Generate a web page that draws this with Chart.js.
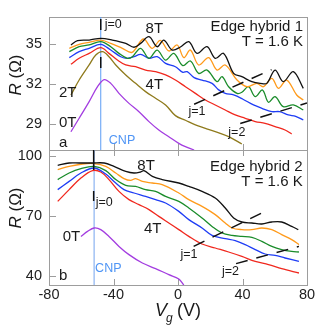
<!DOCTYPE html>
<html>
<head>
<meta charset="utf-8">
<title>Edge hybrid R vs Vg</title>
<script src="https://cdn.jsdelivr.net/npm/chart.js@4.4.0/dist/chart.umd.min.js"></script>
<style>
  body { margin: 0; background: #fff; }
  #wrap { position: relative; width: 321px; height: 332px; }
</style>
</head>
<body>
<div id="wrap"><canvas id="rvg" width="321" height="332"></canvas></div>
<script>
var FONT = '"Liberation Sans", Arial, Helvetica, sans-serif';

// tick labels
var xTicks = [-80, -40, 0, 40, 80];
var topTicks = [29, 32, 35];
var botTicks = [40, 70, 100];

// panel a (Edge hybrid 1), Vg in V, R in Ohm
var top8V = [-66.4,-62.3,-55.1,-47.9,-40.7,-32.4,-27.3,-23.2,-18.0,-12.9,-8.8,-3.6,1.5,6.7,11.8,18.0,23.1,28.3,34.5,39.6,45.8,51.0,55.1,60.2,65.3,71.5,77.7];
var top8R = [34.95,35.27,35.32,35.45,35.32,35.07,34.78,35.07,35.57,34.82,35.32,34.57,34.8,35.2,34.32,34.82,33.95,34.32,32.82,32.57,32.2,32.07,32.07,33.07,32.2,32.95,31.7];
var top7V = [-67.4,-61.3,-55.1,-47.9,-41.7,-34.5,-28.5,-21.5,-16.0,-11.0,-5.7,-0.5,3.6,7.7,12.8,19.0,24.2,29.3,36.6,42.7,48.9,53.0,58.2,62.3,67.4,73.6,77.7];
var top7R = [34.7,35.0,35.15,35.32,35.07,34.7,34.4,35.4,34.7,35.3,34.5,34.95,34.0,34.57,33.45,34.0,33.07,33.45,32.32,31.82,32.07,31.82,32.45,31.7,32.32,31.2,30.82];
var top6V = [-67.4,-61.3,-55.1,-47.9,-41.7,-36.6,-31.4,-28.3,-23.2,-18.0,-12.9,-7.7,-2.6,3.0,7.7,12.8,18.0,24.2,27.3,31.4,36.6,39.6,43.7,47.9,52.4,56.1,60.2,65.3,71.5,77.7];
var top6R = [34.45,34.82,34.95,35.2,34.82,34.32,33.95,34.07,34.7,33.95,34.57,33.82,34.32,33.4,33.75,32.82,33.07,32.2,32.57,31.82,31.32,31.4,31.82,31.07,31.57,30.65,31.07,30.32,30.45,30.07];
var top5V = [-67.4,-61.3,-55.1,-47.9,-41.7,-35.5,-31.4,-27.3,-23.2,-18.0,-12.9,-7.7,-1.6,3.0,5.7,10.0,14.9,21.1,25.0,29.3,34.5,40.0,46.8,52.0,58.2,63.0,68.4,73.0,77.7];
var top5R = [34.0,34.45,34.7,35.0,34.57,34.07,33.95,34.07,34.25,33.95,34.07,33.57,33.32,32.9,32.95,32.5,32.32,32.07,31.6,31.32,31.2,30.9,30.45,30.2,29.95,29.95,29.7,29.6,29.32];
var top4V = [-66.4,-61.3,-55.1,-47.9,-42.8,-37.6,-32.4,-26.3,-20.1,-13.9,-7.7,-1.6,4.6,10.8,17.0,23.1,29.3,35.5,41.7,47.9,54.0,60.2,66.4,70.5];
var top4R = [33.5,33.95,34.32,34.75,34.32,33.82,33.45,33.32,33.07,32.95,32.7,32.32,31.82,31.32,30.82,30.45,30.07,29.7,29.45,29.2,29.07,28.82,28.57,28.27];
var top2V = [-66.4,-61.3,-55.1,-51.0,-46.8,-42.8,-38.6,-32.4,-26.3,-20.1,-13.9,-7.7,-1.6,4.6,10.8,17.0,23.1,31.4,39.6];
var top2R = [31.2,32.32,33.45,34.2,34.45,34.07,33.45,32.7,32.07,31.45,30.95,30.45,29.65,29.3,28.95,28.7,28.45,28.07,27.52];
var top0V = [-66.4,-61.3,-55.1,-49.9,-45.8,-41.7,-36.6,-30.4,-24.2,-18.0,-11.9,-5.7,0.5,4.6,10.0];
var top0R = [28.44,29.45,30.7,31.82,32.35,32.07,31.32,30.57,29.94,29.2,28.57,28.07,27.57,27.32,27.07];

// panel b (Edge hybrid 2)
var bot8V = [-74.6,-67.5,-61.3,-53.0,-45.8,-39.7,-32.4,-27.3,-23.2,-21.1,-15.9,-9.8,0.5,6.7,14.9,23.1,29.3,34.5,39.6,45.8,52.0,58.2,64.3,70.5,74.6];
var bot8R = [95.3,96.5,96.5,96.5,96.5,94.8,92.3,91.5,92.0,92.7,89.8,88.2,86.5,84.8,82.3,79.0,74.0,69.0,67.0,66.5,66.0,67.0,67.0,64.8,63.2];
var bot7V = [-74.6,-67.5,-59.2,-52.0,-44.8,-38.6,-33.5,-29.4,-26.3,-22.1,-15.9,-9.8,0.5,6.7,14.9,23.1,29.3,33.5,39.6,45.8,52.0,58.2,64.3,70.5,75.0];
var bot7R = [93.2,94.8,96.0,96.2,94.8,91.5,88.7,87.8,88.7,87.3,86.5,85.7,81.5,78.2,74.8,70.7,66.5,64.0,63.2,63.2,64.0,63.2,60.7,58.2,55.7];
var bot6V = [-74.6,-67.5,-60.2,-52.0,-44.8,-38.6,-32.4,-26.3,-20.1,-13.9,-7.7,0.5,6.7,14.9,21.1,27.3,33.5,39.6,45.8,52.0,58.2,64.3,70.5,75.0];
var bot6R = [88.2,91.5,93.7,94.8,92.7,88.2,85.3,84.8,83.2,82.3,79.8,77.3,74.0,69.0,64.8,61.5,60.3,59.8,59.3,57.3,54.8,53.2,52.3,52.0];
var bot5V = [-74.6,-67.5,-60.2,-52.0,-44.8,-39.7,-33.5,-27.3,-20.1,-13.9,-7.7,0.5,6.7,14.9,21.1,29.3,35.5,41.7,47.9,54.0,60.2,66.4,75.0];
var bot5R = [83.2,87.3,91.5,94.0,91.0,87.3,83.2,81.5,79.8,78.2,76.5,72.3,68.2,64.0,60.3,58.7,57.7,55.7,53.2,51.0,50.3,49.0,47.3];
var bot4V = [-74.6,-67.5,-60.2,-53.0,-47.9,-42.8,-36.6,-30.4,-24.2,-18.0,-11.9,-5.7,0.5,6.7,14.9,23.1,31.4,39.6,47.9,56.1,64.3,75.0];
var bot4R = [77.3,83.2,89.0,92.7,92.0,88.2,82.3,78.2,75.7,73.2,69.8,66.5,63.2,59.8,56.0,54.0,52.0,49.8,47.3,45.7,43.7,41.5];
var bot0V = [-60.2,-56.1,-52.0,-47.9,-42.8,-36.6,-30.4,-22.1,-13.9,-5.7,0.5,3.6];
var bot0R = [59.8,62.3,64.0,63.2,59.8,54.8,50.7,46.5,43.7,40.7,38.5,35.5];

// j markers and charge neutrality point
var topJ0V = [-47.9,-47.9,-47.9,-47.9,-47.9];
var topJ0R = [36.9,36.07,null,34.05,33.22];
var topJ1V = [10,58];   var topJ1R = [30.5,33.1];
var topJ2V = [38.6,80]; var topJ2R = [29.06,30.6];
var botJ0V = [-52.3,-52.3,-52.3,-52.3,-52.3];
var botJ0R = [103,93.0,null,82.5,77.5];
var botJ1V = [9.7,52];  var botJ1R = [54.8,71.5];
var botJ2V = [36,75];   var botJ2R = [46.2,54.8];
var topCnpV = [-47.9,-47.9]; var topCnpR = [27.07,37.05];
var botCnpV = [-52.0,-52.0]; var botCnpR = [35.5,103];

var notes = [
  {ax:'yTop', t:'Edge hybrid 1', v:77.5, r:36.0, size:15, align:'right'},
  {ax:'yTop', t:'T = 1.6 K', v:77.5, r:34.87, size:15, align:'right'},
  {ax:'yTop', t:'8T', v:-20.1, r:35.82, size:15},
  {ax:'yTop', t:'4T', v:-20.1, r:31.65, size:15},
  {ax:'yTop', t:'2T', v:-73.8, r:31.07, size:15},
  {ax:'yTop', t:'0T', v:-73.8, r:28.82, size:15},
  {ax:'yTop', t:'a', v:-73.8, r:27.32, size:15},
  {ax:'yTop', t:'j=0', v:-45.4, r:36.2, size:12.5},
  {ax:'yTop', t:'CNP', v:-42.9, r:27.5, size:12.5, color:'#4f95f5'},
  {ax:'yTop', t:'j=1', v:6.5, r:29.69, size:12.5},
  {ax:'yTop', t:'j=2', v:31.2, r:28.15, size:12.5},
  {ax:'yBot', t:'Edge hybrid 2', v:77.3, r:92.5, size:15, align:'right'},
  {ax:'yBot', t:'T = 1.6 K', v:77.3, r:85.0, size:15, align:'right'},
  {ax:'yBot', t:'8T', v:-25.2, r:93.2, size:15},
  {ax:'yBot', t:'4T', v:-21.1, r:61.5, size:15},
  {ax:'yBot', t:'0T', v:-71.5, r:57.3, size:15},
  {ax:'yBot', t:'b', v:-73.8, r:38.2, size:15},
  {ax:'yBot', t:'j=0', v:-51.0, r:74.8, size:12.5},
  {ax:'yBot', t:'CNP', v:-51.4, r:42.0, size:12.5, color:'#4f95f5'},
  {ax:'yBot', t:'j=1', v:1.5, r:49.0, size:12.5},
  {ax:'yBot', t:'j=2', v:27.3, r:40.7, size:12.5}
];

function pts(vs, rs) {
  return vs.map(function(v, i) { return {x: v, y: rs[i]}; });
}
function curve(vs, rs, color, axis) {
  return { data: pts(vs, rs), yAxisID: axis, borderColor: color, borderWidth: 1.3,
           pointRadius: 0, tension: 0.35, fill: false };
}
function marker(vs, rs, axis, dash) {
  return { data: pts(vs, rs), yAxisID: axis, borderColor: '#111', borderWidth: 1.5,
           borderDash: dash || [], pointRadius: 0, tension: 0, spanGaps: false, fill: false };
}
function cnp(vs, rs, axis, color, w) {
  return { data: pts(vs, rs), yAxisID: axis, borderColor: color, borderWidth: w,
           pointRadius: 0, tension: 0, fill: false };
}

var datasets = [
  marker(topJ0V, topJ0R, 'yTop'), marker(topJ1V, topJ1R, 'yTop', [12, 9]), marker(topJ2V, topJ2R, 'yTop', [12, 9]),
  marker(botJ0V, botJ0R, 'yBot'), marker(botJ1V, botJ1R, 'yBot', [12, 9]), marker(botJ2V, botJ2R, 'yBot', [12, 9]),
  curve(top8V, top8R, '#111111', 'yTop'),
  curve(top7V, top7R, '#ff9a1a', 'yTop'),
  curve(top6V, top6R, '#1a8c2a', 'yTop'),
  curve(top5V, top5R, '#1f3df5', 'yTop'),
  curve(top4V, top4R, '#f0281e', 'yTop'),
  curve(top2V, top2R, '#8f7a1c', 'yTop'),
  curve(top0V, top0R, '#a33de0', 'yTop'),
  curve(bot8V, bot8R, '#111111', 'yBot'),
  curve(bot7V, bot7R, '#ff9a1a', 'yBot'),
  curve(bot6V, bot6R, '#1a8c2a', 'yBot'),
  curve(bot5V, bot5R, '#1f3df5', 'yBot'),
  curve(bot4V, bot4R, '#f0281e', 'yBot'),
  curve(bot0V, bot0R, '#a33de0', 'yBot'),
  cnp(topCnpV, topCnpR, 'yTop', '#5b9cf5', 1),
  cnp(botCnpV, botCnpR, 'yBot', '#a8c6f5', 1.6)
];

function seg(ctx, x1, y1, x2, y2) {
  ctx.beginPath(); ctx.moveTo(x1, y1); ctx.lineTo(x2, y2); ctx.stroke();
}

var decor = {
  id: 'decor',
  beforeDatasetsDraw: function(chart) {
    var ctx = chart.ctx, xs = chart.scales.x;
    ctx.save();
    ctx.strokeStyle = '#9d9d9d';
    ctx.lineWidth = 1;
    ['yTop', 'yBot'].forEach(function(id) {
      var s = chart.scales[id];
      ctx.strokeRect(Math.round(xs.left) + 0.5, Math.round(s.top) + 0.5,
                     Math.round(xs.right - xs.left), Math.round(s.bottom - s.top));
      s.ticks.forEach(function(t) {
        var py = Math.round(s.getPixelForValue(t.value)) + 0.5;
        seg(ctx, xs.left, py, xs.left + 7, py);
      });
      xTicks.slice(1, -1).forEach(function(v) {
        var px = Math.round(xs.getPixelForValue(v)) + 0.5;
        seg(ctx, px, s.bottom, px, s.bottom - 6);
        if (id === 'yBot') seg(ctx, px, s.top, px, s.top + 6);
      });
    });
    ctx.restore();
  },
  afterDraw: function(chart) {
    var ctx = chart.ctx, xs = chart.scales.x;
    ctx.save();
    ctx.textBaseline = 'alphabetic';
    notes.forEach(function(n) {
      var ys = chart.scales[n.ax];
      ctx.font = n.size + 'px ' + FONT;
      ctx.fillStyle = n.color || '#1a1a1a';
      ctx.textAlign = n.align || 'left';
      ctx.fillText(n.t, xs.getPixelForValue(n.v), ys.getPixelForValue(n.r));
    });

    // y titles: R (Ω), italic R
    ctx.fillStyle = '#1a1a1a';
    ctx.textAlign = 'left';
    [['yTop', 75], ['yBot', 208]].forEach(function(p) {
      ctx.save();
      ctx.translate(21, p[1]);
      ctx.rotate(-Math.PI / 2);
      ctx.font = 'italic 17px ' + FONT;
      var wR = ctx.measureText('R').width;
      ctx.font = '17px ' + FONT;
      var wRest = ctx.measureText(' (\u03A9)').width;
      var x0 = -(wR + wRest) / 2;
      ctx.font = 'italic 17px ' + FONT;
      ctx.fillText('R', x0, 0);
      ctx.font = '17px ' + FONT;
      ctx.fillText(' (\u03A9)', x0 + wR, 0);
      ctx.restore();
    });

    // x title: V_g (V)
    var cx = xs.getPixelForValue(0), base = 316;
    ctx.font = 'italic 18px ' + FONT;
    var wV = ctx.measureText('V').width;
    var x0 = cx - 23;
    ctx.fillText('V', x0, base);
    ctx.font = 'italic 12px ' + FONT;
    ctx.fillText('g', x0 + wV - 1, base + 6);
    ctx.font = '18px ' + FONT;
    ctx.fillText('(V)', x0 + wV + 10, base);
    ctx.restore();
  }
};

var yCommon = function(ticks) {
  return {
    type: 'linear', position: 'left', stack: 'panels',
    afterBuildTicks: function(s) { s.ticks = ticks.map(function(v) { return {value: v}; }); },
    afterFit: function(s) { s.width = 49; },
    grid: { display: false, drawTicks: false },
    border: { display: false },
    ticks: { font: { family: FONT, size: 14.5 }, color: '#222', padding: 7 }
  };
};

var yTop = yCommon(topTicks);
yTop.min = 27.07; yTop.max = 37.05; yTop.stackWeight = 133; yTop.weight = 1;
var yBot = yCommon(botTicks);
yBot.min = 35.5; yBot.max = 103; yBot.stackWeight = 135; yBot.weight = 0;

new Chart(document.getElementById('rvg'), {
  type: 'line',
  data: { datasets: datasets },
  plugins: [decor],
  options: {
    responsive: false,
    animation: false,
    devicePixelRatio: 1,
    layout: { padding: { top: 17, right: 14, left: 0, bottom: 0 } },
    plugins: { legend: { display: false }, tooltip: { enabled: false } },
    scales: {
      x: {
        type: 'linear', position: 'bottom', min: -80, max: 80,
        afterBuildTicks: function(s) { s.ticks = xTicks.map(function(v) { return {value: v}; }); },
        afterFit: function(s) { s.height = 47; },
        grid: { display: false, drawTicks: false },
        border: { display: false },
        ticks: { font: { family: FONT, size: 14.5 }, color: '#222', padding: 1, maxRotation: 0, autoSkip: false }
      },
      yBot: yBot,
      yTop: yTop
    }
  }
});
</script>
</body>
</html>
